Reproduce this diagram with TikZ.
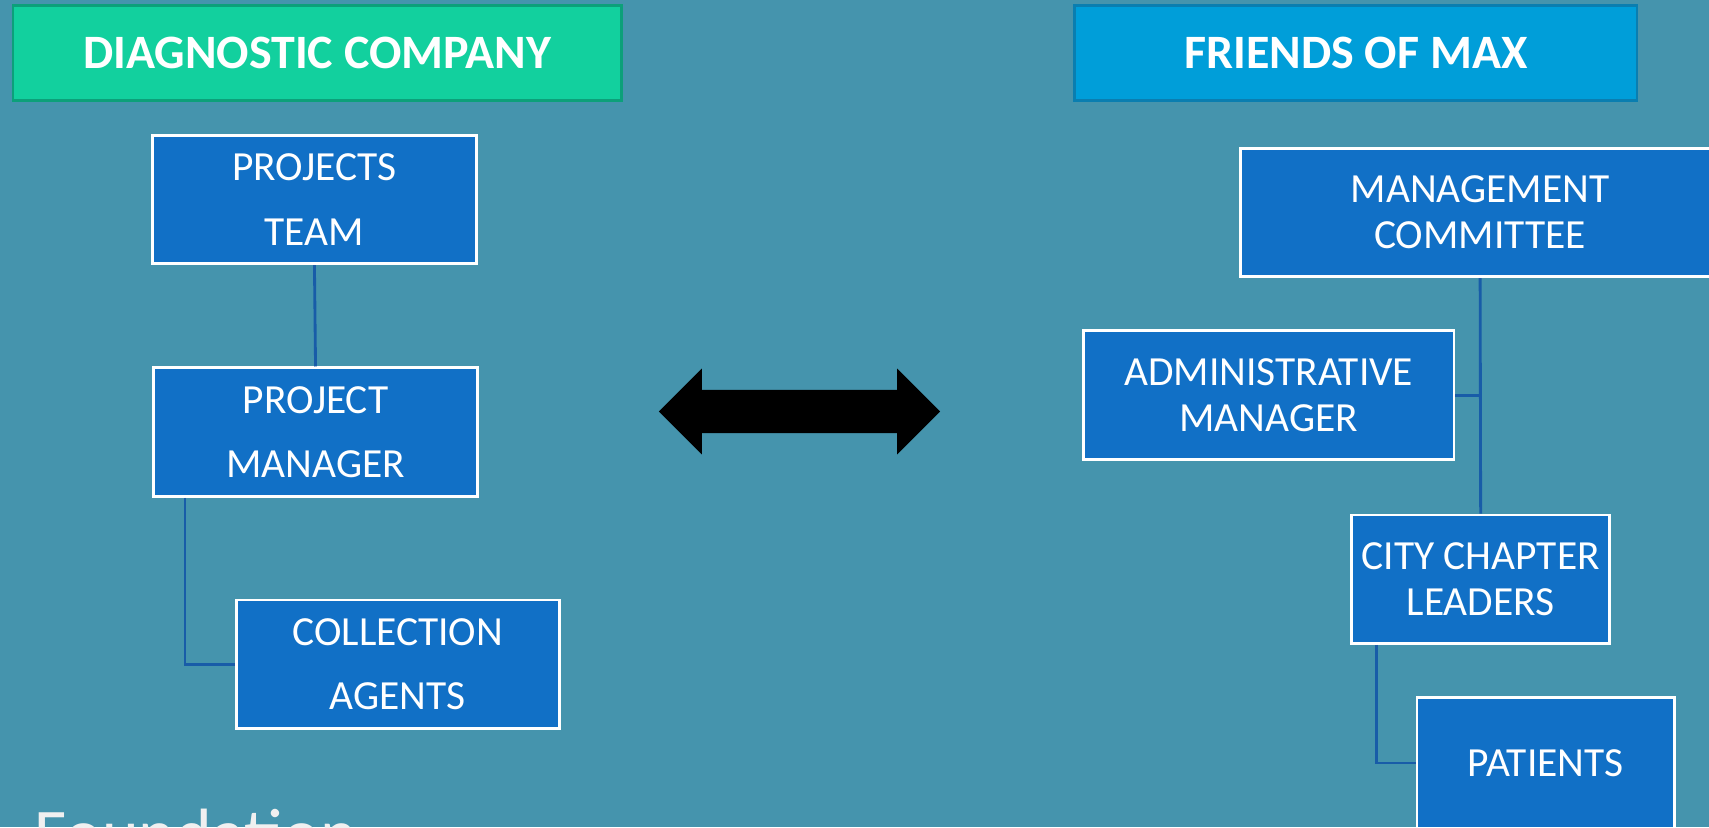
\documentclass[tikz,border=0pt]{standalone}
\usepackage{fontspec}
\usepackage{tikz}
\usepackage{xcolor}
\usetikzlibrary{arrows,calc,shapes}
\setmainfont{Carlito}
\definecolor{slide}{RGB}{69,148,173}
\definecolor{boxblue}{RGB}{17,112,198}
\definecolor{linkblue}{RGB}{24,92,168}
\definecolor{mint}{RGB}{18,208,158}
\definecolor{mintedge}{RGB}{12,160,122}
\definecolor{sky}{RGB}{0,158,217}
\definecolor{skyedge}{RGB}{10,126,176}
\tikzset{every scope/.style={thick}}
\tikzstyle{header} =
  [ rectangle
  , text=white
  , font=\fontsize{44}{50}\selectfont\bfseries
  , minimum height=87pt
  , line width=2.5pt
  , inner sep=0pt
  ]
\tikzstyle{company_role} =
  [ rectangle
  , draw=white
  , fill=boxblue
  , text=white
  , align=center
  , font=\fontsize{38}{59}\selectfont
  , line width=2.5pt
  , minimum width=297pt
  , minimum height=118pt
  , inner sep=0pt
  ]
\tikzstyle{friends_role} =
  [ company_role
  , font=\fontsize{38}{42}\selectfont
  ]
\tikzstyle{link} =
  [ draw=linkblue
  , line width=2.6pt
  ]
\def\DiagnosticCompany{DIAGNOSTIC COMPANY}
\def\FriendsOfMax{FRIENDS OF MAX}
\begin{document}
\begin{tikzpicture}[x=1pt,y=-1pt]
    \useasboundingbox (0,0) rectangle (1568,759);
    \clip (0,0) rectangle (1568,759);
    \fill[slide] (0,0) rectangle (1568,759);

    % diagnostic company side
    \node[header,fill=mint,draw=mintedge,minimum width=558pt] (company) at (291,48.5) {\DiagnosticCompany};
    \node[company_role] (projects_team)     at (288.5,183)   {PROJECTS\\TEAM};
    \node[company_role] (project_manager)   at (289.5,396.5) {PROJECT\\MANAGER};
    \node[company_role,minimum width=296pt] (collection_agents) at (365,609.5) {COLLECTION\\AGENTS};
    \draw[link] (projects_team.south) -- (project_manager.north);
    \draw[link] ([xshift=30pt]project_manager.south west) |- (collection_agents.west);

    \node[double arrow, fill=black, minimum height=258pt, inner sep=19.5pt, double arrow head extend=19.5pt] (exchange) at (733.5,377.5) {};

    % friends of max side
    \node[header,fill=sky,draw=skyedge,minimum width=516pt] (friends) at (1244,48.5) {\FriendsOfMax};
    \node[friends_role,minimum width=440pt] (management_committee) at (1358,195)   {MANAGEMENT\\COMMITTEE};
    \node[friends_role,minimum width=340pt] (admin_manager)        at (1164,362.5) {ADMINISTRATIVE\\MANAGER};
    \node[friends_role,minimum width=237pt] (chapter_leaders)      at (1358.5,531.5) {CITY CHAPTER\\LEADERS};
    \node[friends_role,minimum width=236pt,minimum height=120pt] (patients) at (1418,700) {PATIENTS};
    \draw[link] (management_committee.south) -- (chapter_leaders.north);
    \draw[link] (admin_manager.east) -- (admin_manager.east -| management_committee.south);
    \draw[link] ([xshift=24pt]chapter_leaders.south west) |- (patients.west);

    \node[anchor=base west, inner sep=0pt, text=white!94!black, font=\fontsize{64}{72}\selectfont] (foundation) at (31,787) {Foundation};
  \end{tikzpicture}
\end{document}
